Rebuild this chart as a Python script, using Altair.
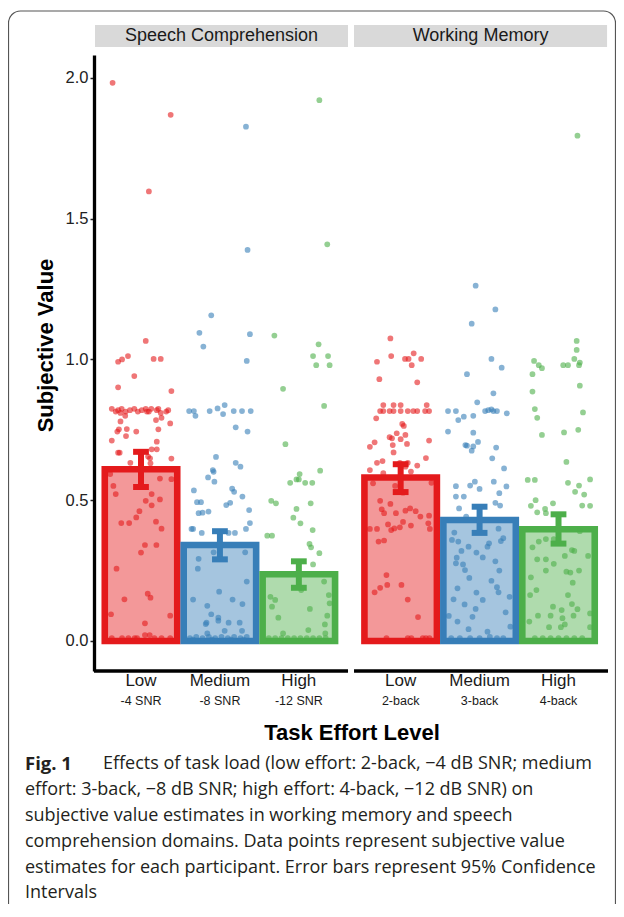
import altair as alt
import pandas as pd

# ---------------- data ----------------
levels = ["Low", "Medium", "High"]
panels = ["Speech Comprehension", "Working Memory"]
group_pos = [0, 1, 2, 3.29, 4.29, 5.29]
group_level = ["Low", "Medium", "High", "Low", "Medium", "High"]
sub_labels = ["-4 SNR", "-8 SNR", "-12 SNR", "2-back", "3-back", "4-back"]
bar_means = [0.61, 0.341, 0.237, 0.581, 0.43, 0.397]
ci_low = [0.547, 0.29, 0.189, 0.529, 0.384, 0.346]
ci_high = [0.672, 0.39, 0.283, 0.628, 0.477, 0.45]
colors = ["#e41a1c", "#377eb8", "#4daf4a"]

strip_x0 = [-0.583, 2.699]
strip_x1 = [2.623, 5.905]
axis_x0 = [-0.5955, 2.699]
axis_x1 = [2.623, 5.917]

sc_low_jit = [-0.36, 0.376, 0.10, 0.06, -0.165, -0.24, -0.29, 0.16, 0.25, -0.085, -0.29, 0.385,
              -0.37, -0.32, -0.29, -0.245, -0.195, -0.14, -0.085, -0.04, 0.01, 0.06, 0.075, 0.2, 0.22, 0.32, 0.345,
              -0.26, 0.13, 0.25, 0.1,
              -0.26, -0.2, 0.19, 0.26, 0.37, -0.28, -0.18, -0.30, -0.06, 0.22, -0.19, -0.37, 0.20,
              -0.29, -0.27, 0.135, 0.20, -0.135, 0.09, 0.115, 0.385, 0.12,
              -0.39, 0.24, 0.385, -0.35, -0.32, 0.135, 0.06, 0.24, 0.135, -0.02, -0.06, -0.25, -0.15, 0.19, 0.26,
              0.05, 0.195, 0.0, -0.31, 0.085, 0.12, -0.21, -0.38, 0.37, 0.05, 0.05, 0.11,
              -0.37, -0.24, -0.16, -0.08, -0.05, 0.17, 0.26, 0.37]
sc_low_val = [1.983, 1.869, 1.597, 1.066, 1.012, 1.0, 0.992, 1.002, 1.002, 0.941, 0.901, 0.888,
              0.825, 0.815, 0.82, 0.825, 0.815, 0.82, 0.825, 0.815, 0.82, 0.825, 0.815, 0.82, 0.825, 0.815, 0.82,
              0.81, 0.825, 0.81, 0.815,
              0.78, 0.80, 0.785, 0.793, 0.773, 0.752, 0.753, 0.744, 0.744, 0.752, 0.728, 0.712, 0.708,
              0.669, 0.669, 0.681, 0.681, 0.633, 0.655, 0.649, 0.648, 0.631,
              0.593, 0.577, 0.575, 0.551, 0.522, 0.522, 0.498, 0.503, 0.482, 0.461, 0.439, 0.419, 0.419, 0.424, 0.399,
              0.341, 0.341, 0.314, 0.257, 0.168, 0.154, 0.148, 0.095, 0.09, 0.063, 0.021, 0.021,
              0.01, 0.01, 0.01, 0.01, 0.01, 0.01, 0.01, 0.01]

sc_med_jit = [0.33, 0.35, -0.11, -0.26, 0.38, -0.21, 0.34,
              -0.39, -0.33, -0.13, -0.03, 0.06, 0.04, 0.175, 0.28, 0.39, -0.31,
              0.2, 0.35, -0.05, -0.09, -0.08, -0.15, 0.2, 0.26, -0.07, -0.33, 0.155, 0.18, 0.285,
              -0.29, -0.24, 0.08, 0.13, 0.37, -0.27, -0.22, -0.145, 0.38, -0.36, -0.34, -0.23, 0.33, 0.11, 0.19,
              -0.08, 0.32, -0.27, -0.28, 0.34, -0.01, -0.34, 0.16, 0.285, -0.16, -0.11, -0.02, -0.02,
              -0.17, -0.18, 0.11, 0.25, 0.06, 0.28, -0.16,
              -0.38, -0.3, -0.22, -0.14, -0.06, 0.02, 0.1, 0.18, 0.26, 0.34, -0.34, -0.1, 0.14, 0.3]
sc_med_val = [1.827, 1.389, 1.157, 1.095, 1.09, 1.046, 0.995,
              0.817, 0.817, 0.817, 0.826, 0.838, 0.806, 0.817, 0.817, 0.817, 0.80,
              0.759, 0.744, 0.654, 0.607, 0.601, 0.581, 0.633, 0.619, 0.566, 0.535, 0.541, 0.53, 0.513,
              0.493, 0.493, 0.483, 0.491, 0.465, 0.454, 0.456, 0.46, 0.419, 0.398, 0.398, 0.384, 0.398, 0.384, 0.384,
              0.315, 0.315, 0.292, 0.257, 0.211, 0.175, 0.147, 0.147, 0.131, 0.125, 0.095, 0.083, 0.072,
              0.065, 0.06, 0.065, 0.065, 0.036, 0.036, 0.027,
              0.01, 0.015, 0.01, 0.015, 0.01, 0.015, 0.01, 0.015, 0.01, 0.015, 0.005, 0.005, 0.005, 0.005]

sc_high_jit = [0.26, 0.36, -0.31, 0.25, 0.18, 0.37, 0.22, 0.39, -0.2, 0.32, -0.17, 0.27, 0.01, -0.03, 0.0,
               -0.11, 0.08, 0.17, -0.35, -0.29, 0.15, -0.03, -0.07, 0.02, 0.175, -0.4, -0.34, 0.135, 0.155,
               0.26, 0.18,
               0.32, 0.03, -0.36, -0.3, -0.34, 0.38, 0.14, -0.26, 0.36, 0.33, 0.12, -0.2, 0.335, 0.39,
               -0.38, -0.3, -0.22, -0.14, -0.06, 0.02, 0.1, 0.18, 0.26, 0.34]
sc_high_val = [1.921, 1.409, 1.085, 1.054, 1.012, 1.012, 0.98, 0.98, 0.896, 0.835, 0.699, 0.605, 0.593, 0.574,
               0.574, 0.562, 0.562, 0.562, 0.498, 0.489, 0.489, 0.469, 0.438, 0.418, 0.394, 0.374, 0.374, 0.345,
               0.333, 0.312, 0.272,
               0.211, 0.181, 0.157, 0.146, 0.122, 0.163, 0.114, 0.083, 0.09, 0.059, 0.039, 0.027, 0.027, 0.134,
               0.01, 0.01, 0.01, 0.01, 0.01, 0.01, 0.01, 0.01, 0.01, 0.01]

wm_low_jit = [-0.13, -0.12, 0.165, 0.055, 0.10, 0.26, -0.30, 0.14, -0.27, 0.21,
              -0.26, -0.22, -0.14, -0.09, 0.00, 0.09, 0.16, 0.21, 0.31, 0.36, -0.22, -0.09, 0.0, 0.33,
              -0.31, 0.02, 0.04, -0.33, -0.39, -0.05, -0.11, -0.14, 0.06, 0.0, 0.36, -0.1, 0.08, -0.09, 0.32,
              -0.3, -0.23, -0.39, -0.01, 0.09, 0.06, 0.21, -0.22, 0.13,
              -0.35, 0.39, -0.07, 0.03, -0.26, -0.24, -0.21, -0.13, -0.06, 0.06, 0.12, 0.19, 0.25, 0.36,
              -0.39, -0.3, -0.16, -0.12, -0.08, -0.01, 0.03, 0.13, 0.35, 0.37, -0.28, -0.21, -0.18, -0.17,
              -0.33, -0.26, 0.01, 0.09, 0.22,
              -0.18, 0.09, 0.135, 0.28, 0.32, 0.365]
wm_low_val = [1.075, 1.012, 1.022, 1.002, 1.002, 1.002, 0.992, 0.98, 0.93, 0.919,
              0.817, 0.817, 0.817, 0.817, 0.817, 0.817, 0.817, 0.817, 0.817, 0.817, 0.838, 0.838, 0.838, 0.838,
              0.791, 0.771, 0.764, 0.706, 0.69, 0.738, 0.72, 0.724, 0.732, 0.717, 0.712, 0.696, 0.7, 0.67, 0.65,
              0.633, 0.639, 0.607, 0.633, 0.633, 0.619, 0.623, 0.596, 0.602,
              0.56, 0.562, 0.551, 0.527, 0.498, 0.468, 0.454, 0.487, 0.454, 0.463, 0.471, 0.461, 0.442, 0.445,
              0.398, 0.398, 0.414, 0.394, 0.4, 0.404, 0.423, 0.41, 0.418, 0.398, 0.353, 0.357, 0.234, 0.199,
              0.173, 0.189, 0.199, 0.147, 0.085,
              0.01, 0.01, 0.01, 0.01, 0.01, 0.01]

wm_med_jit = [-0.05, 0.2, -0.1, 0.15, 0.28, -0.16, 0.175, -0.03,
              -0.4, -0.3, 0.07, 0.11, 0.15, 0.175, 0.22, 0.345, -0.2, -0.27, -0.08, -0.4, -0.08, -0.18, -0.16,
              -0.08, -0.02, -0.1, 0.21, 0.16, 0.31, 0.18, -0.3, -0.12, -0.06, 0.0, 0.34, -0.3, -0.2, 0.25,
              -0.26, 0.2, 0.26,
              -0.17, -0.32, -0.35, -0.27, 0.24, 0.3, 0.27, -0.14, 0.1, 0.12, -0.23, -0.04, -0.29, -0.3, -0.21,
              -0.185, 0.04, 0.2, 0.25, -0.13, 0.15, 0.22, 0.24, -0.28, -0.04, -0.33, 0.04, 0.38, -0.19, -0.05,
              -0.39, -0.09, 0.33, -0.28, -0.14, 0.1, 0.13, 0.39,
              -0.36, -0.25, -0.12, 0.0, 0.22, 0.3]
wm_med_val = [1.262, 1.178, 1.127, 1.002, 0.971, 0.948, 0.88, 0.848,
              0.817, 0.817, 0.817, 0.82, 0.823, 0.817, 0.817, 0.809, 0.797, 0.785, 0.8, 0.744, 0.74, 0.696, 0.694,
              0.691, 0.707, 0.676, 0.687, 0.649, 0.613, 0.566, 0.55, 0.552, 0.566, 0.54, 0.549, 0.513, 0.513, 0.525,
              0.471, 0.491, 0.481,
              0.442, 0.385, 0.359, 0.353, 0.399, 0.365, 0.355, 0.335, 0.335, 0.347, 0.32, 0.314, 0.296, 0.276, 0.272,
              0.252, 0.297, 0.283, 0.25, 0.224, 0.214, 0.191, 0.173, 0.187, 0.172, 0.148, 0.146, 0.157, 0.13, 0.114,
              0.089, 0.086, 0.102, 0.069, 0.042, 0.033, 0.015, 0.051,
              0.01, 0.01, 0.01, 0.01, 0.01, 0.01]

wm_high_jit = [0.24, 0.23, 0.23, 0.2, -0.31, -0.25, -0.21, 0.06, 0.12, 0.27, 0.26, -0.33, 0.27, -0.33, 0.31,
               -0.3, -0.27, 0.07, 0.25, -0.21, 0.1, -0.39, -0.3, 0.4, 0.12, 0.26, 0.21, 0.325, -0.29, -0.35,
               -0.27, -0.17, -0.07, 0.3, 0.4, -0.16,
               0.27, -0.25, -0.33, -0.16, -0.06, 0.17, 0.2, 0.08, 0.375, -0.27, -0.16, -0.06, 0.1, 0.15, 0.26,
               -0.16, -0.35, 0.18, -0.28, 0.12, -0.36, -0.07, 0.04, 0.17, 0.24, 0.4, -0.26, -0.1, 0.05, 0.08,
               0.19, -0.37, -0.12, 0.03, 0.4,
               -0.3, -0.2, -0.1, 0.0, 0.1, 0.2, 0.3]
wm_high_val = [1.795, 1.066, 1.034, 1.002, 0.995, 0.98, 0.969, 0.98, 0.98, 0.989, 0.98, 0.948, 0.907, 0.886,
               0.812, 0.824, 0.793, 0.741, 0.75, 0.732, 0.636, 0.572, 0.572, 0.574, 0.562, 0.552, 0.53, 0.52,
               0.5, 0.48, 0.457, 0.469, 0.489, 0.481, 0.48, 0.454,
               0.39, 0.353, 0.333, 0.362, 0.362, 0.323, 0.32, 0.302, 0.302, 0.29, 0.29, 0.274, 0.246, 0.243, 0.25,
               0.25, 0.226, 0.207, 0.181, 0.163, 0.163, 0.122, 0.11, 0.131, 0.113, 0.098, 0.09, 0.09, 0.081, 0.059,
               0.09, 0.069, 0.049, 0.049, 0.049,
               0.01, 0.01, 0.01, 0.01, 0.01, 0.01, 0.01]

caption_lines = [
    "Effects of task load (low effort: 2-back, \u22124 dB SNR; medium",
    "effort: 3-back, \u22128 dB SNR; high effort: 4-back, \u221212 dB SNR) on",
    "subjective value estimates in working memory and speech",
    "comprehension domains. Data points represent subjective value",
    "estimates for each participant. Error bars represent 95% Confidence",
    "Intervals",
]

# ---------------- tables ----------------
W, H = 514, 616
half_bar = 0.459
cap_half = 0.1

groups = pd.DataFrame({
    "pos": group_pos,
    "level": group_level,
    "sub": sub_labels,
    "mean": bar_means,
    "lo": ci_low,
    "hi": ci_high,
})
groups["x0"] = groups["pos"] - half_bar
groups["x1"] = groups["pos"] + half_bar
groups["cl"] = groups["pos"] - cap_half
groups["cr"] = groups["pos"] + cap_half

jits = [sc_low_jit, sc_med_jit, sc_high_jit, wm_low_jit, wm_med_jit, wm_high_jit]
vals = [sc_low_val, sc_med_val, sc_high_val, wm_low_val, wm_med_val, wm_high_val]
rows = []
for i in range(6):
    for j, v in zip(jits[i], vals[i]):
        rows.append({"x": group_pos[i] + j, "value": v, "level": group_level[i]})
points = pd.DataFrame(rows)

strips = pd.DataFrame({"x0": strip_x0, "x1": strip_x1, "label": panels})
strips["xc"] = (strips["x0"] + strips["x1"]) / 2
axes_df = pd.DataFrame({"x0": axis_x0, "x1": axis_x1})

xscale = alt.Scale(domain=[-0.5955, 5.917], zero=False, nice=False)
yscale = alt.Scale(domain=[-0.1066, 2.0817], zero=False, nice=False)
cscale = alt.Scale(domain=levels, range=colors)
FONT = "Liberation Sans"
yaxis = alt.Axis(values=[0, 0.5, 1, 1.5, 2], format=".1f", grid=False,
                 domainColor="black", domainWidth=3.3, tickColor="#222", tickWidth=1.5, tickSize=4,
                 labelFont=FONT, labelFontSize=16.5, labelColor="#222", labelPadding=2,
                 title="Subjective Value", titleFont=FONT, titleFontSize=22,
                 titleFontWeight="bold", titleColor="black", titleAngle=270, titleX=-49, titleY=290,
                 titleAlign="center", titleBaseline="middle")

border = alt.Chart(pd.DataFrame({"a": [0]})).mark_rect(
    cornerRadius=12, fillOpacity=0, stroke="#555555", strokeWidth=1.2
).encode(x=alt.value(-85.5), x2=alt.value(521.5), y=alt.value(-44), y2=alt.value(900))

strip_rect = alt.Chart(strips).mark_rect(color="#d9d9d9").encode(
    x=alt.X("x0:Q", scale=xscale, axis=None), x2="x1:Q", y=alt.value(-30), y2=alt.value(-8))
strip_text = alt.Chart(strips).mark_text(font=FONT, fontSize=18, color="#1a1a1a").encode(
    x=alt.X("xc:Q", scale=xscale, axis=None), y=alt.value(-19), text="label:N")

bars = alt.Chart(groups).mark_rect(strokeWidth=6.6, fillOpacity=0.45).encode(
    x=alt.X("x0:Q", scale=xscale, axis=None), x2="x1:Q",
    y=alt.Y("mean:Q", scale=yscale, axis=yaxis), y2=alt.Y2(datum=0),
    fill=alt.Fill("level:N", scale=cscale, legend=None),
    stroke=alt.Stroke("level:N", scale=cscale, legend=None))

dots = alt.Chart(points).mark_circle(size=33, opacity=0.6).encode(
    x=alt.X("x:Q", scale=xscale, axis=None),
    y=alt.Y("value:Q", scale=yscale, axis=yaxis),
    color=alt.Color("level:N", scale=cscale, legend=None))

stems = alt.Chart(groups).mark_rule(strokeWidth=6).encode(
    x=alt.X("pos:Q", scale=xscale, axis=None),
    y=alt.Y("lo:Q", scale=yscale, axis=yaxis), y2="hi:Q",
    color=alt.Color("level:N", scale=cscale, legend=None))
caps_lo = alt.Chart(groups).mark_rule(strokeWidth=6).encode(
    x=alt.X("cl:Q", scale=xscale, axis=None), x2="cr:Q",
    y=alt.Y("lo:Q", scale=yscale, axis=yaxis),
    color=alt.Color("level:N", scale=cscale, legend=None))
caps_hi = alt.Chart(groups).mark_rule(strokeWidth=6).encode(
    x=alt.X("cl:Q", scale=xscale, axis=None), x2="cr:Q",
    y=alt.Y("hi:Q", scale=yscale, axis=yaxis),
    color=alt.Color("level:N", scale=cscale, legend=None))

xlines = alt.Chart(axes_df).mark_rule(strokeWidth=3.3, color="black").encode(
    x=alt.X("x0:Q", scale=xscale, axis=None), x2="x1:Q", y=alt.value(H))

lvl_text = alt.Chart(groups).mark_text(font=FONT, fontSize=17, color="#1a1a1a").encode(
    x=alt.X("pos:Q", scale=xscale, axis=None), y=alt.value(626), text="level:N")
sub_text = alt.Chart(groups).mark_text(font=FONT, fontSize=12.5, color="#1a1a1a").encode(
    x=alt.X("pos:Q", scale=xscale, axis=None), y=alt.value(646), text="sub:N")
xtitle = alt.Chart(pd.DataFrame({"t": ["Task Effort Level"]})).mark_text(
    font=FONT, fontSize=22, fontWeight="bold", color="black").encode(
    x=alt.value(W / 2 + 1), y=alt.value(678), text="t:N")

cap_layers = []
cap_layers.append(alt.Chart(pd.DataFrame({"t": ["Fig. 1"]})).mark_text(
    font="Open Sans", fontSize=18.5, fontWeight="bold", align="left", color="#231f20").encode(
    x=alt.value(-69), y=alt.value(709), text="t:N"))
line_y = [709, 735, 761, 787, 813, 838]
for k, line in enumerate(caption_lines):
    x0 = 9 if k == 0 else -69
    cap_layers.append(alt.Chart(pd.DataFrame({"t": [line]})).mark_text(
        font="Open Sans", fontSize=18, align="left", color="#231f20").encode(
        x=alt.value(x0), y=alt.value(line_y[k]), text="t:N"))

chart = alt.layer(
    border, strip_rect, strip_text, bars, dots, stems, caps_lo, caps_hi, xlines,
    lvl_text, sub_text, xtitle, *cap_layers
).properties(
    width=W, height=H,
    autosize=alt.AutoSizeParams(type="none"),
    padding={"left": 86, "top": 47, "right": 8, "bottom": 233},
).configure_view(stroke=None)

chart.save("out.html", embed_options={"renderer": "svg", "actions": False})
